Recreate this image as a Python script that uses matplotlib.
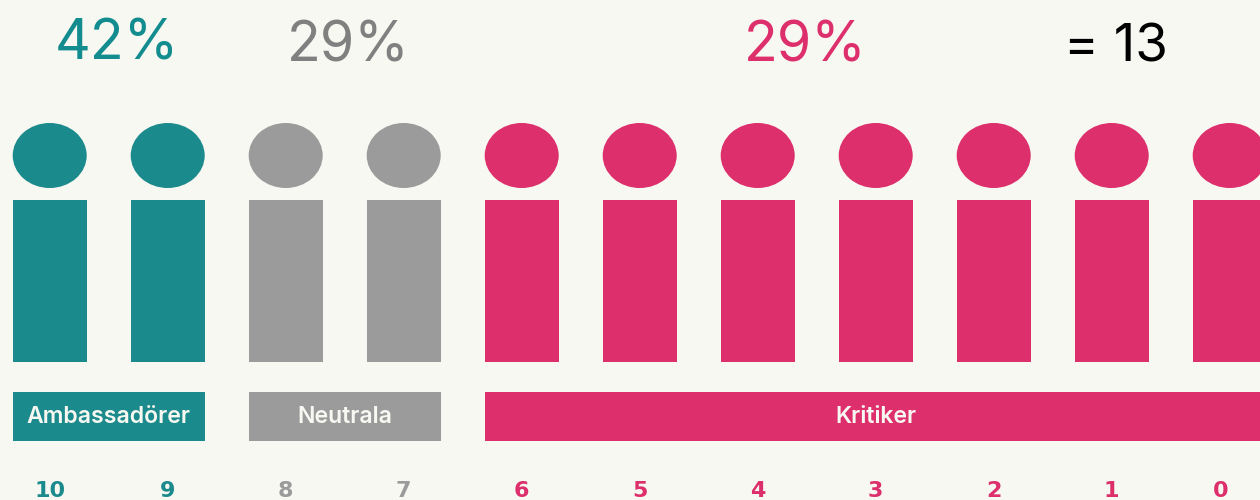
import matplotlib
matplotlib.use("Agg")
import matplotlib.pyplot as plt
from matplotlib.patches import Rectangle, Ellipse

scores = ["10", "9", "8", "7", "6", "5", "4", "3", "2", "1", "0"]
groups = ["p", "p", "n", "n", "d", "d", "d", "d", "d", "d", "d"]
bands = [("Ambassadörer", 0, 1, "p"), ("Neutrala", 2, 3, "n"), ("Kritiker", 4, 10, "d")]
headlines = [("42%", 117, 60, "p", 40), ("29%", 348, 61, "n", 40), ("29%", 805, 61, "d", 40), ("= 13", 1116, 61, "k", 38)]
colors = {"p": "#1b8a8c", "n": "#9b9b9b", "d": "#dc2f6b", "k": "#000000"}
headline_colors = {"p": "#128c8e", "n": "#808080", "d": "#dc2f6b", "k": "#000000"}
bg = "#f8f8f2"

plt.rcParams["font.family"] = ["Inter", "DejaVu Sans"]
fig = plt.figure(figsize=(12.6, 5), dpi=100, facecolor=bg)
ax = fig.add_axes([0, 0, 1, 1])
ax.set_xlim(0, 1260)
ax.set_ylim(500, 0)
ax.axis("off")

W = 74
STEP = 118
X0 = 12.7
MAX_LABEL_X = 1221
for i, (s, g) in enumerate(zip(scores, groups)):
    x = X0 + STEP * i
    c = colors[g]
    ax.add_patch(Ellipse((x + W / 2, 155.5), W, 65, color=c, lw=0))
    ax.add_patch(Rectangle((x, 200), W, 162, color=c, lw=0))
    ax.text(min(x + W / 2, MAX_LABEL_X), 497, s, color=c, fontsize=16, fontweight="bold",
            family=["DejaVu Sans"], ha="center", va="baseline")

for name, a, b, g in bands:
    x0 = X0 + STEP * a
    x1 = X0 + STEP * b + W
    ax.add_patch(Rectangle((x0, 392), x1 - x0, 49, color=colors[g], lw=0))
    ax.text((x0 + x1) / 2, 423, name, color="#f8f8f2", fontsize=16.6, fontweight="semibold",
            ha="center", va="baseline")

for t, x, y, g, fs in headlines:
    ax.text(x, y, t, color=headline_colors[g], fontsize=fs, fontweight="normal", ha="center", va="baseline")

fig.savefig("out.png", dpi=100, facecolor=bg)
